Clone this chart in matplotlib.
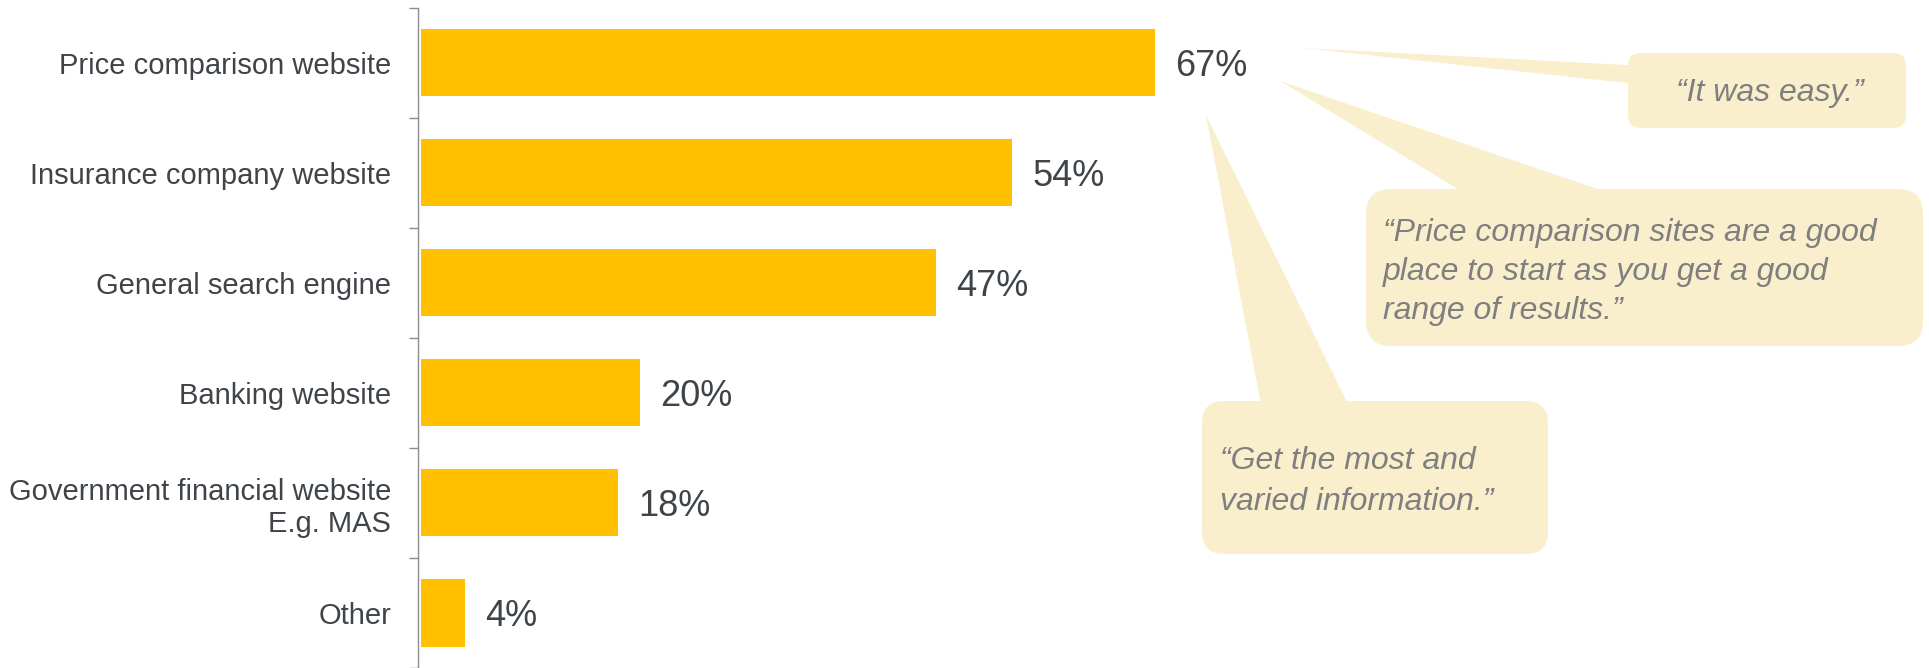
import matplotlib
matplotlib.use("Agg")
import matplotlib.pyplot as plt
from matplotlib.patches import FancyBboxPatch, Polygon
import numpy as np

# ---- data ----
categories = ["Price comparison website", "Insurance company website", "General search engine",
              "Banking website", "Government financial website\nE.g. MAS", "Other"]
values = [67, 54, 47, 20, 18, 4]
value_labels = ["67%", "54%", "47%", "20%", "18%", "4%"]
quotes = ["\u201cIt was easy.\u201d",
          "\u201cPrice comparison sites are a good\nplace to start as you get a good\nrange of results.\u201d",
          "\u201cGet the most and\nvaried information.\u201d"]

plt.rcParams['font.family'] = ['Liberation Sans', 'DejaVu Sans']

W, H = 1929, 668
fig = plt.figure(figsize=(W / 100, H / 100), dpi=100)

BAR = '#FFC000'
TXT = '#3F4449'
AXC = '#8C8C8C'
BUB = '#FAEFCD'
QTXT = '#7F7F7F'

left_px = 421
px_per_unit = 10.95
ax = fig.add_axes([left_px / W, 0, (W - left_px) / W, 1 - 7.5 / H])
ax.barh(range(len(values)), values, height=0.61, color=BAR)
ax.set_ylim(len(values) - 0.5, -0.5)
ax.set_xlim(0, (W - left_px) / px_per_unit)

ax.tick_params(axis='y', which='major', length=0, pad=19.4, labelsize=21, labelcolor=TXT)
ax.tick_params(axis='y', which='minor', length=6.5, width=1.0, color=AXC)
ax.set_yticks(np.arange(-0.5, len(categories), 1), minor=True)
ax.set_yticks(range(len(categories)))
ax.set_yticklabels(categories)
for lbl in ax.get_yticklabels():
    lbl.set_fontsize(21)
    lbl.set_color(TXT)
    lbl.set_multialignment('center')
    lbl.set_linespacing(1.32)
ax.set_xticks([])
for s in ['top', 'right', 'bottom']:
    ax.spines[s].set_visible(False)
ax.spines['left'].set_color(AXC)
ax.spines['left'].set_linewidth(1.0)
ax.spines['left'].set_position(('outward', 2.2))

for i, (v, t) in enumerate(zip(values, value_labels)):
    ax.annotate(t, (v, i), xytext=(14.4, -9.6), textcoords='offset points',
                va='baseline', ha='left', fontsize=26, color=TXT)

# ---- speech bubbles (overlay in pixel coordinates) ----
ov = fig.add_axes([0, 0, 1, 1])
ov.set_xlim(0, W)
ov.set_ylim(H, 0)
ov.axis('off')

pointers = [
    [(1303, 48), (1645, 66), (1645, 85)],
    [(1280, 81), (1476, 200), (1630, 200)],
    [(1206, 115), (1262, 410), (1351, 410)],
]
boxes = [
    (1628, 53, 278, 75, 13),
    (1366, 189, 557, 157, 25),
    (1202, 401, 346, 153, 22),
]
for pts in pointers:
    ov.add_patch(Polygon(pts, closed=True, facecolor=BUB, edgecolor='none'))
for (x, y, w, h, r) in boxes:
    ov.add_patch(FancyBboxPatch((x, y), w, h, boxstyle=f"round,pad=0,rounding_size={r}",
                                facecolor=BUB, edgecolor='none'))

ov.text(1770, 78, quotes[0], ha='center', va='top', fontsize=23, style='italic', color=QTXT)
ov.text(1383, 218, quotes[1], ha='left', va='top', fontsize=23, style='italic', color=QTXT,
        linespacing=1.39)
ov.text(1220, 446, quotes[2], ha='left', va='top', fontsize=23, style='italic', color=QTXT,
        linespacing=1.46)

fig.savefig('out.png', dpi=100, facecolor='white')
